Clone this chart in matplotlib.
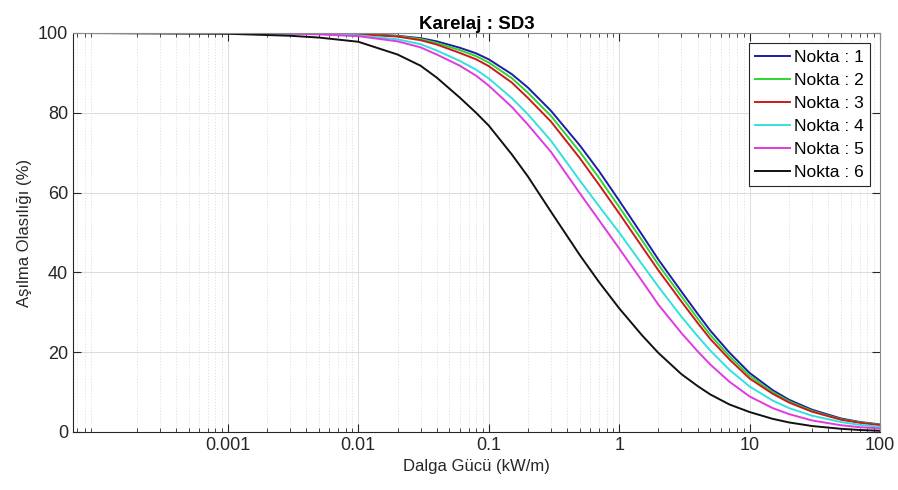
import numpy as np
import matplotlib
matplotlib.use('Agg')
import matplotlib.pyplot as plt
from matplotlib.ticker import LogLocator, FixedLocator, NullFormatter

# Dalga gucu (kW/m) - ortak x noktalari
power = [6.5e-5, 1e-3, 3e-3, 0.005, 0.01, 0.02, 0.03, 0.04, 0.06, 0.08, 0.1, 0.15, 0.2,
         0.3, 0.5, 0.7, 1, 1.5, 2, 3, 4, 5, 7, 10, 15, 20, 30, 50, 70, 100]

# Asilma olasiligi (%) - her nokta icin
nokta1 = [100, 100, 99.95, 99.93, 99.8, 99.3, 98.7, 97.9, 96.3, 94.9, 93.4, 89.7, 86.3,
          80.5, 71.8, 65.4, 58.0, 49.4, 43.2, 35.2, 29.6, 25.4, 19.9, 14.8, 10.5, 8.1,
          5.6, 3.4, 2.5, 1.9]
nokta2 = [100, 100, 99.95, 99.9, 99.75, 99.2, 98.5, 97.5, 95.7, 94.2, 92.6, 88.7, 85.0,
          79.2, 70.2, 63.7, 56.4, 48.0, 41.9, 34.0, 28.4, 24.3, 19.0, 14.1, 10.0, 7.7,
          5.3, 3.2, 2.4, 1.8]
nokta3 = [100, 100, 99.95, 99.9, 99.7, 99.1, 98.2, 97.1, 95.0, 93.4, 91.7, 87.6, 83.7,
          77.8, 68.6, 62.0, 54.8, 46.4, 40.5, 32.7, 27.3, 23.3, 18.2, 13.4, 9.6, 7.4,
          5.1, 3.1, 2.3, 1.7]
nokta4 = [100, 99.95, 99.85, 99.75, 99.4, 98.4, 97.2, 95.6, 93.0, 90.8, 88.6, 83.7, 79.6,
          73.0, 63.0, 56.6, 50.0, 42.0, 36.4, 28.9, 24.0, 20.4, 15.6, 11.4, 7.9, 6.0,
          4.1, 2.5, 1.8, 1.3]
nokta5 = [100, 99.95, 99.85, 99.65, 99.2, 97.9, 96.4, 94.6, 91.8, 89.3, 86.8, 81.5, 77.0,
          70.2, 59.8, 53.1, 46.0, 37.8, 31.9, 24.8, 20.2, 16.9, 12.6, 8.9, 6.0, 4.5,
          2.9, 1.7, 1.2, 0.9]
nokta6 = [100, 99.8, 99.3, 98.85, 97.8, 94.6, 91.8, 88.8, 83.8, 80.0, 76.8, 69.6, 64.0,
          55.2, 44.3, 37.6, 31.0, 24.2, 19.8, 14.5, 11.5, 9.4, 6.9, 5.0, 3.3, 2.4,
          1.5, 0.8, 0.5, 0.3]

series = [nokta1, nokta2, nokta3, nokta4, nokta5, nokta6]
labels = ['Nokta : 1', 'Nokta : 2', 'Nokta : 3', 'Nokta : 4', 'Nokta : 5', 'Nokta : 6']
colors = ['#1c1ca6', '#2ed62e', '#cc1a1a', '#33e0e0', '#e03ae0', '#111111']

plt.rcParams['font.family'] = ['Liberation Sans', 'DejaVu Sans']

fig = plt.figure(figsize=(8.98, 4.9), dpi=100)
ax = fig.add_axes([0.0813, 0.1184, 0.8987, 0.8143])

for vals, lab, col in zip(series, labels, colors):
    ax.plot(power, vals, color=col, lw=1.4, label=lab)

ax.set_xscale('log')
ax.set_xlim(6.5e-5, 100)
ax.set_ylim(0, 100)

ax.xaxis.set_major_locator(FixedLocator([1e-3, 1e-2, 1e-1, 1, 10, 100]))
ax.set_xticklabels(['0.001', '0.01', '0.1', '1', '10', '100'])
ax.xaxis.set_minor_locator(LogLocator(base=10, subs=np.arange(2, 10), numticks=20))
ax.xaxis.set_minor_formatter(NullFormatter())
ax.set_yticks([0, 20, 40, 60, 80, 100])

ax.grid(True, which='major', color='#dcdcdc', lw=0.7, ls='-')
ax.grid(True, which='minor', axis='x', color='#dedede', lw=0.6, ls=(0, (1.5, 2)))
ax.set_axisbelow(True)

ax.tick_params(which='both', direction='in', top=True, right=True, colors='#262626',
               labelsize=13)
ax.tick_params(which='major', length=6)
ax.tick_params(which='minor', length=3)
for name, sp in ax.spines.items():
    sp.set_color('#262626' if name in ('left', 'bottom') else '#8a8a8a')
    sp.set_linewidth(0.8)

ax.set_title('Karelaj : SD3', fontsize=13.5, fontweight='bold', pad=3)
ax.set_xlabel('Dalga Gücü (kW/m)', fontsize=12, color='#262626')
ax.set_ylabel('Aşılma Olasılığı (%)', fontsize=12, color='#262626')

leg = ax.legend(loc='upper right', fontsize=12.5, fancybox=False, framealpha=1,
                edgecolor='#262626', handlelength=2.0, handletextpad=0.2,
                labelspacing=0.46, borderpad=0.35, borderaxespad=0.6)
leg.get_frame().set_linewidth(0.8)

fig.savefig('out.png', dpi=100)
